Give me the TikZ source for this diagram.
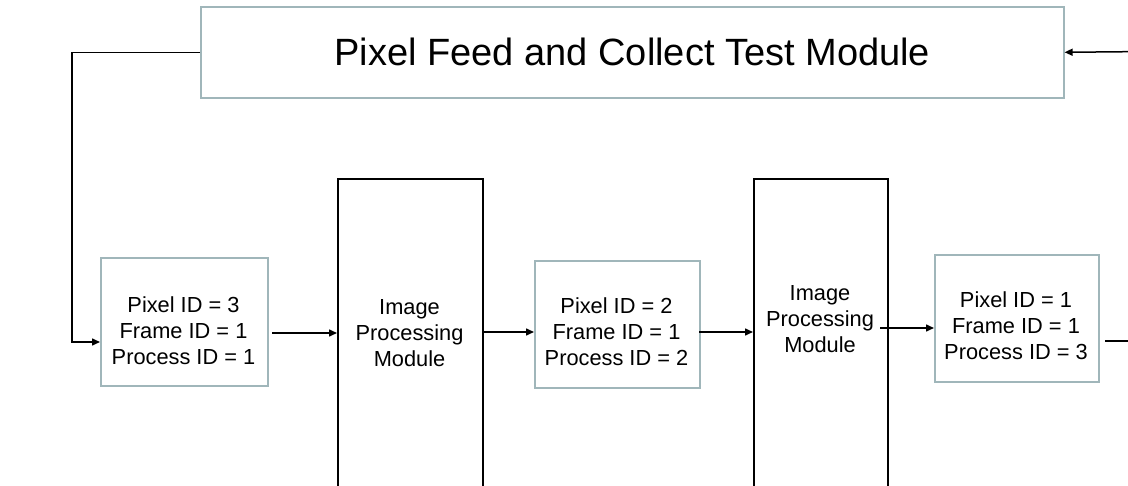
\documentclass[tikz,border=0pt]{standalone}
\usepackage{fontspec}
\setmainfont{Liberation Sans}
\usetikzlibrary{arrows.meta}
\definecolor{boxedge}{RGB}{160,182,186}
\tikzset{
  idbox/.style={draw=boxedge, line width=1.6pt, fill=white, rectangle, inner sep=0pt, anchor=north west},
  modbox/.style={draw=black, line width=1.6pt, fill=white, rectangle, inner sep=0pt, anchor=north west},
  idtext/.style={align=center, inner sep=0pt, font=\fontsize{21.8}{26}\selectfont},
  link/.style={draw=black, line width=1.5pt},
  arr/.style={link, -{Triangle[length=8pt,width=7pt]}},
}
\begin{document}
\begin{tikzpicture}[x=1pt,y=-1pt]
\useasboundingbox (0,0) rectangle (1128,486);
\clip (0,0) rectangle (1128,486);
\fill[white] (0,0) rectangle (1128,486);

% test module on top
\node[idbox, minimum width=863pt, minimum height=91pt,
      font=\fontsize{38}{44}\selectfont] (feed) at (200,6) {Pixel Feed and Collect Test Module};

% pixel descriptor boxes
\node[idbox, minimum width=167pt, minimum height=128pt] (b1) at (100,257) {};
\node[idtext] (b1t) at (183.5,331) {Pixel ID = 3\\Frame ID = 1\\Process ID = 1};
\node[idbox, minimum width=165pt, minimum height=127pt] (b2) at (534,260) {};
\node[idtext] (b2t) at (616.5,332) {Pixel ID = 2\\Frame ID = 1\\Process ID = 2};
\node[idbox, minimum width=164pt, minimum height=127pt] (b3) at (934,254) {};
\node[idtext] (b3t) at (1016,326) {Pixel ID = 1\\Frame ID = 1\\Process ID = 3};

% image processing modules (running past the lower edge)
\node[modbox, minimum width=145pt, minimum height=330pt] (m1) at (337,178) {};
\node[idtext] (m1t) at (409.5,333) {Image\\Processing\\Module};
\node[modbox, minimum width=134pt, minimum height=330pt] (m2) at (753,178) {};
\node[idtext] (m2t) at (820,319) {Image\\Processing\\Module};

% connectors
\coordinate (lc) at (72,342);
\coordinate (a1) at (272,333);
\coordinate (a2) at (482,332);
\coordinate (a3) at (699,332);
\coordinate (a4) at (880,328);
\coordinate (out) at (1105,341);
\coordinate (outend) at (1128,341);
\coordinate (in) at (1128,51.7);

\draw[arr] (feed.west) -| (lc) -- (lc -| b1.west);
\draw[arr] (a1) -- (a1 -| m1.west);
\draw[arr] (a2) -- (a2 -| b2.west);
\draw[arr] (a3) -- (a3 -| m2.west);
\draw[arr] (a4) -- (a4 -| b3.west);
\draw[link] (out) -- (outend);
\draw[arr] (in) -- (feed.east);
\end{tikzpicture}
\end{document}
